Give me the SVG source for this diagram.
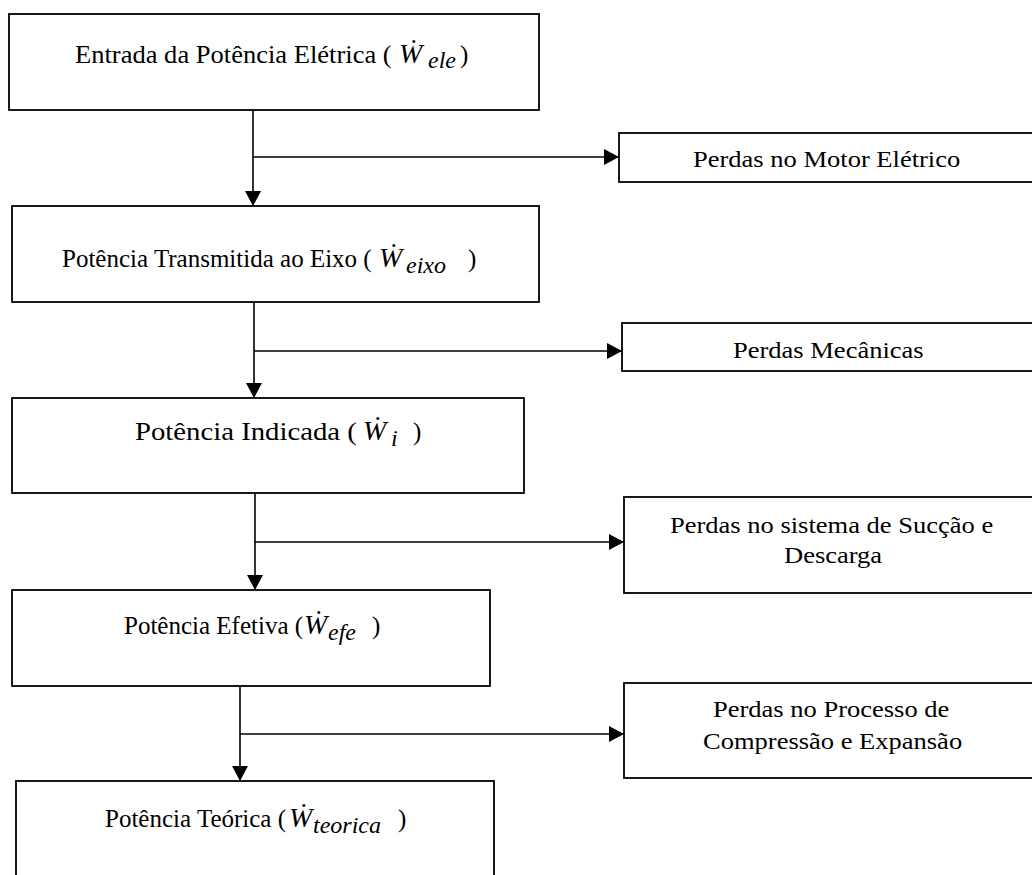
<svg xmlns="http://www.w3.org/2000/svg" width="1032" height="875" viewBox="0 0 1032 875">
<style>
.box{fill:#fff;stroke:#000;stroke-width:1.8}
.t{font-family:"Liberation Serif","Times New Roman",serif;font-size:25px;fill:#000}
.r{font-family:"Liberation Serif","Times New Roman",serif;font-size:24px;fill:#000}
.w{font-family:"Liberation Serif","Times New Roman",serif;font-size:28px;font-style:italic;fill:#000}
.s{font-family:"Liberation Serif","Times New Roman",serif;font-size:24px;font-style:italic;fill:#000}
.c{fill:none;stroke:#000;stroke-width:1.6}
</style>
<defs>
<marker id="ah" markerUnits="userSpaceOnUse" markerWidth="16" markerHeight="16" refX="15" refY="8" orient="auto">
<path d="M0,0 L15,8 L0,16 z" fill="#000"/>
</marker>
</defs>
<rect width="1032" height="875" fill="#fff"/>
<g id="connectors">
<line class="c" x1="253" y1="110" x2="253" y2="206" marker-end="url(#ah)"/>
<line class="c" x1="253" y1="157" x2="619" y2="157" marker-end="url(#ah)"/>
<line class="c" x1="254" y1="302" x2="254" y2="398" marker-end="url(#ah)"/>
<line class="c" x1="254" y1="351" x2="622" y2="351" marker-end="url(#ah)"/>
<line class="c" x1="255" y1="493" x2="255" y2="590" marker-end="url(#ah)"/>
<line class="c" x1="255" y1="542" x2="624" y2="542" marker-end="url(#ah)"/>
<line class="c" x1="240" y1="686" x2="240" y2="781" marker-end="url(#ah)"/>
<line class="c" x1="240" y1="734" x2="624" y2="734" marker-end="url(#ah)"/>
</g>
<g id="n1">
<rect class="box" x="9" y="14" width="530" height="96"/>
<text class="t" transform="translate(75,63) scale(1.062,1)">Entrada da Potência Elétrica (</text>
<text class="w" x="399" y="63">Ẇ</text>
<text class="s" x="428" y="68">ele</text>
<text class="t" x="460" y="63">)</text>
</g>
<g id="n2">
<rect class="box" x="12" y="206" width="527" height="96"/>
<text class="t" x="62" y="267">Potência Transmitida ao Eixo (</text>
<text class="w" x="379" y="267">Ẇ</text>
<text class="s" x="406" y="273">eixo</text>
<text class="t" x="468" y="267">)</text>
</g>
<g id="n3">
<rect class="box" x="12" y="398" width="512" height="95"/>
<text class="t" transform="translate(135,440) scale(1.15,1)">Potência Indicada (</text>
<text class="w" x="363" y="440">Ẇ</text>
<text class="s" x="391" y="446">i</text>
<text class="t" x="413" y="440">)</text>
</g>
<g id="n4">
<rect class="box" x="12" y="590" width="478" height="96"/>
<text class="t" x="124" y="634">Potência Efetiva (</text>
<text class="w" x="304" y="634">Ẇ</text>
<text class="s" x="328" y="640">efe</text>
<text class="t" x="372" y="634">)</text>
</g>
<g id="n5">
<rect class="box" x="16" y="781" width="478" height="110"/>
<text class="t" x="105" y="827">Potência Teórica (</text>
<text class="w" x="289" y="827">Ẇ</text>
<text class="s" x="313" y="833">teorica</text>
<text class="t" x="398" y="827">)</text>
</g>
<g id="p1">
<rect class="box" x="619" y="133" width="425" height="49"/>
<text class="r" transform="translate(693,167) scale(1.105,1)">Perdas no Motor Elétrico</text>
</g>
<g id="p2">
<rect class="box" x="622" y="323" width="422" height="48"/>
<text class="r" transform="translate(733,358) scale(1.105,1)">Perdas Mecânicas</text>
</g>
<g id="p3">
<rect class="box" x="624" y="497" width="420" height="96"/>
<text class="r" transform="translate(670,533) scale(1.105,1)">Perdas no sistema de Sucção e</text>
<text class="r" transform="translate(784,563) scale(1.105,1)">Descarga</text>
</g>
<g id="p4">
<rect class="box" x="624" y="683" width="420" height="95"/>
<text class="r" transform="translate(713,717) scale(1.105,1)">Perdas no Processo de</text>
<text class="r" transform="translate(703,749) scale(1.105,1)">Compressão e Expansão</text>
</g>
</svg>
